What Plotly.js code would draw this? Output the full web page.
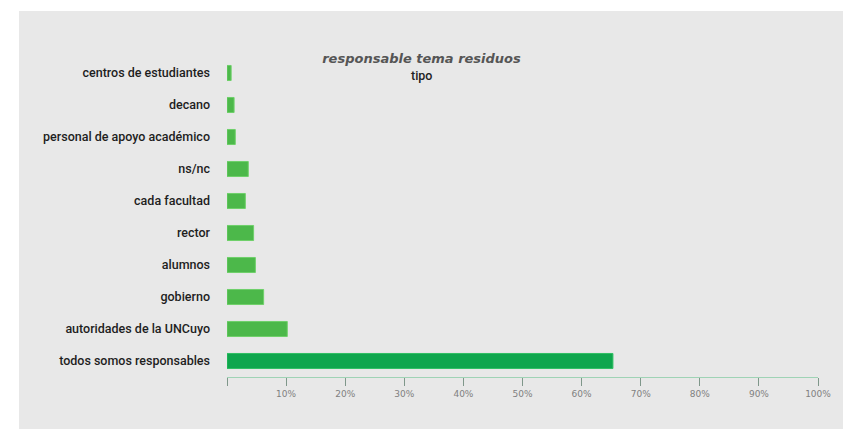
<!DOCTYPE html>
<html>
<head>
<meta charset="utf-8">
<script src="https://cdn.plot.ly/plotly-3.0.1.min.js"></script>
<style>html,body{margin:0;padding:0;background:#fff;}#chart{width:843px;height:429px;}</style>
</head>
<body>
<div id="chart"></div>
<script>
// Data (top to bottom as shown)
const categories = [
  "centros de estudiantes",
  "decano",
  "personal de apoyo académico",
  "ns/nc",
  "cada facultad",
  "rector",
  "alumnos",
  "gobierno",
  "autoridades de la UNCuyo",
  "todos somos responsables"
];
const values = [0.7, 1.2, 1.4, 3.6, 3.1, 4.5, 4.8, 6.2, 10.2, 65.3];
const tickVals = [0, 10, 20, 30, 40, 50, 60, 70, 80, 90, 100];
const tickLabels = ["", "10%", "20%", "30%", "40%", "50%", "60%", "70%", "80%", "90%", "100%"];

const barColors = values.map((v, i) => i === values.length - 1 ? "#0ea64d" : "#4cb84a");
const lineColors = values.map((v, i) => i === values.length - 1 ? "#2fbf63" : "#6fd06a");

const trace = {
  type: "bar",
  orientation: "h",
  x: values,
  y: categories,
  marker: {color: barColors, line: {color: lineColors, width: 1}},
  width: 0.47,
  hoverinfo: "none"
};

const layout = {
  width: 843,
  height: 429,
  margin: {l: 227, r: 25, t: 57, b: 52},
  paper_bgcolor: "#ffffff",
  plot_bgcolor: "rgba(0,0,0,0)",
  showlegend: false,
  title: {
    text: "responsable tema residuos",
    xref: "container", x: 0.5, xanchor: "center",
    yref: "container", y: 1 - 58/429, yanchor: "middle",
    font: {family: "DejaVu Sans, sans-serif", size: 13, color: "#555555", weight: "bold", style: "italic"}
  },
  annotations: [{
    text: "tipo",
    xref: "paper", yref: "paper",
    x: (421 - 227) / 591, y: (377 - 75) / 320,
    xanchor: "center", yanchor: "middle",
    showarrow: false,
    font: {family: "Roboto, sans-serif", size: 12.5, color: "#222222", weight: 500}
  }],
  xaxis: {
    range: [0, 100],
    tickvals: tickVals,
    ticktext: tickLabels,
    ticks: "outside",
    ticklen: 8,
    tickwidth: 1,
    tickcolor: "#7f978a",
    showline: true,
    linecolor: "#9fd3b5",
    linewidth: 1,
    showgrid: false,
    zeroline: false,
    tickfont: {family: "DejaVu Sans, sans-serif", size: 9, color: "#808080"},
    fixedrange: true
  },
  yaxis: {
    autorange: "reversed",
    showgrid: false,
    zeroline: false,
    showline: false,
    ticks: "",
    ticklabelstandoff: 16,
    tickfont: {family: "Roboto, sans-serif", size: 12.5, color: "#1e1e1e", weight: 500},
    fixedrange: true
  },
  shapes: [{
    type: "rect", xref: "paper", yref: "paper", layer: "below",
    x0: (19 - 227) / 591, x1: (843 - 227) / 591,
    y0: (377 - 429) / 320, y1: (377 - 11) / 320,
    fillcolor: "#e8e8e8", line: {width: 0}
  }]
};

Plotly.newPlot("chart", [trace], layout, {displayModeBar: false, staticPlot: true});
</script>
</body>
</html>
